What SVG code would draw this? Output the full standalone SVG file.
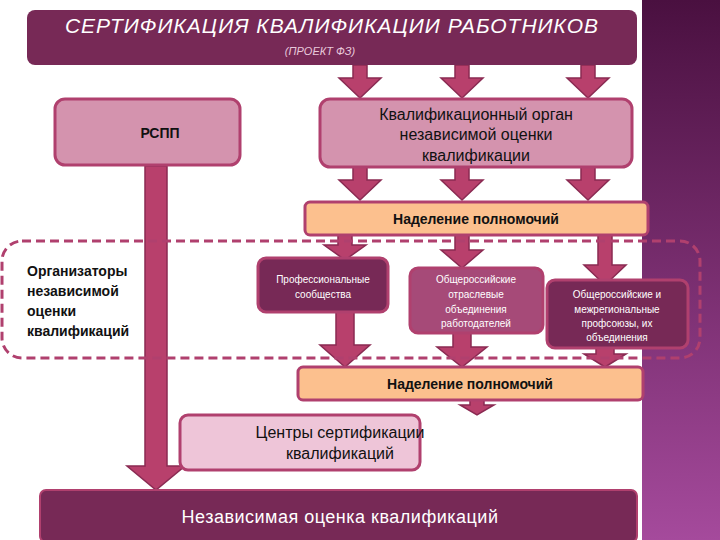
<svg xmlns="http://www.w3.org/2000/svg" width="720" height="540" viewBox="0 0 720 540">
<defs>
<linearGradient id="side" x1="0" y1="0" x2="0" y2="1"><stop offset="0" stop-color="#4a1040"/><stop offset="1" stop-color="#a54a9c"/></linearGradient>
<style>
.dark{fill:#772956;stroke:#b0406e;stroke-width:3}
.pink{fill:#d493ae;stroke:#b0406e;stroke-width:3}
.peach{fill:#fcc08e;stroke:#b0406e;stroke-width:3}
.arr{fill:#b8406c;stroke:#8a2a52;stroke-width:1.5}
text{font-family:"Liberation Sans",Arial,sans-serif;text-anchor:middle}
.b{font-weight:bold;font-size:14px;fill:#111}
.n{font-size:16px;fill:#111}
.w{fill:#fff;font-size:10px}
.l{text-anchor:start}
</style>
</defs>
<rect width="720" height="540" fill="#fff"/>
<rect x="642" y="0" width="78" height="540" fill="url(#side)"/>
<g id="connectors">
<path class="arr" d="M353 65h14v13h14l-21 20-21-20h14z"/>
<path class="arr" d="M455 65h14v13h14l-21 20-21-20h14z"/>
<path class="arr" d="M581 65h14v13h14l-21 20-21-20h14z"/>
<path class="arr" d="M353 167h14v13h14l-21 20-21-20h14z"/>
<path class="arr" d="M455 167h14v13h14l-21 20-21-20h14z"/>
<path class="arr" d="M581 167h14v13h14l-21 20-21-20h14z"/>
<path class="arr" d="M145 166h22v300h18l-29 24-29-24h18z"/>
<path class="arr" d="M338 235h14v10h14l-21 15-21-15h14z"/>
<path class="arr" d="M455 235h14v15h14l-21 18-21-18h14z"/>
<path class="arr" d="M598 235h14v30h14l-21 20-21-20h14z"/>
<path class="arr" d="M336 312h18v33h16l-25 22-25-22h16z"/>
<path class="arr" d="M453 333h18v14h16l-25 20-25-20h16z"/>
<path class="arr" d="M596 348h18v6h12l-21 13-21-13h12z"/>
<path class="arr" d="M470 400h14v5h10l-17 10-17-10h10z"/>
</g>
<rect x="2" y="241" width="698" height="117" rx="20" fill="none" stroke="#b0406e" stroke-width="3" stroke-dasharray="9 5"/>
<g id="title">
<rect x="27" y="10" width="610" height="55" rx="8" fill="#772956"/>
<text x="332" y="33" font-size="21" font-style="italic" fill="#fff" letter-spacing="1">СЕРТИФИКАЦИЯ КВАЛИФИКАЦИИ РАБОТНИКОВ</text>
<text x="320" y="55" font-size="11" font-style="italic" fill="#e8c8da">(ПРОЕКТ ФЗ)</text>
</g>
<g id="rspp"><rect class="pink" x="55" y="99" width="185" height="66" rx="10"/><text class="b" x="160" y="138">РСПП</text></g>
<g id="organ"><rect class="pink" x="320" y="99" width="312" height="68" rx="10"/>
<text class="n" x="476" y="120">Квалификационный орган</text>
<text class="n" x="476" y="140">независимой оценки</text>
<text class="n" x="476" y="161">квалификации</text></g>
<g id="nadel1"><rect class="peach" x="305" y="202" width="343" height="33" rx="5"/><text class="b" x="476" y="224">Наделение полномочий</text></g>
<g id="org"><text class="b l" x="27" y="276">Организаторы</text>
<text class="b l" x="27" y="296">независимой</text>
<text class="b l" x="27" y="316">оценки</text>
<text class="b l" x="27" y="336">квалификаций</text></g>
<g id="prof"><rect class="dark" x="258" y="258" width="130" height="54" rx="8"/>
<text class="w" x="323" y="283">Профессиональные</text><text class="w" x="323" y="298">сообщества</text></g>
<g id="otrasl"><rect class="dark" style="fill:#a64a78" x="410" y="268" width="133" height="65" rx="8"/>
<text class="w" x="476" y="283">Общероссийские</text><text class="w" x="476" y="298">отраслевые</text><text class="w" x="476" y="313">объединения</text><text class="w" x="476" y="327">работодателей</text></g>
<g id="prof2"><rect class="dark" x="547" y="280" width="141" height="68" rx="8"/>
<text class="w" x="617" y="298">Общероссийские и</text><text class="w" x="617" y="313">межрегиональные</text><text class="w" x="617" y="327">профсоюзы, их</text><text class="w" x="617" y="341">объединения</text></g>
<g id="nadel2"><rect class="peach" x="298" y="367" width="345" height="33" rx="5"/><text class="b" x="470" y="389">Наделение полномочий</text></g>
<g id="centers"><rect class="pink" style="fill:#eec5d8" x="180" y="415" width="240" height="55" rx="8"/>
<text class="n" x="340" y="438">Центры сертификации</text><text class="n" x="340" y="459">квалификаций</text></g>
<g id="bottom"><rect x="40" y="490" width="597" height="52" rx="6" fill="#772956" stroke="#b0406e" stroke-width="2"/>
<text x="340" y="523" font-size="18" fill="#fff" letter-spacing="0.5">Независимая оценка квалификаций</text></g>
</svg>
